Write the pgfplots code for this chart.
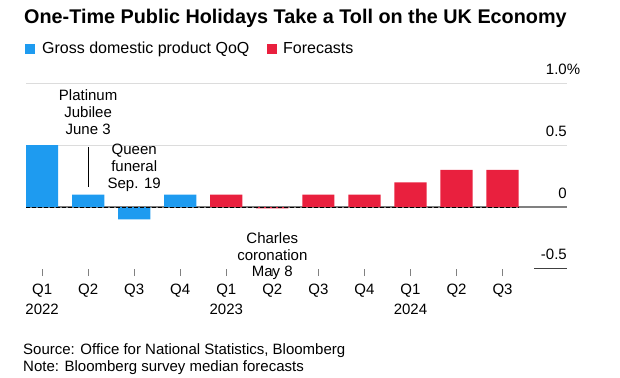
\documentclass[border=0pt]{standalone}
\usepackage{pgfplots}
\pgfplotsset{compat=1.18}
\usepackage{fontspec}
\setmainfont{Liberation Sans}
\definecolor{gdpblue}{RGB}{30,155,240}
\definecolor{fcred}{RGB}{233,32,62}
\definecolor{gridgray}{RGB}{220,220,220}
\definecolor{zerogray}{RGB}{128,128,128}
\begin{document}
\begin{tikzpicture}
\path[use as bounding box] (0pt,0pt) rectangle (620pt,377pt);
\node[anchor=base west, inner sep=0, font=\fontsize{19.8}{22}\selectfont\bfseries] at (24pt,353.7pt) {One-Time Public Holidays Take a Toll on the UK Economy};
\fill[gdpblue] (25pt,323pt) rectangle (35pt,333pt);
\node[anchor=base west, inner sep=0, font=\fontsize{16}{18}\selectfont] at (42pt,323pt) {Gross domestic product QoQ};
\fill[fcred] (267pt,323pt) rectangle (277pt,333pt);
\node[anchor=base west, inner sep=0, font=\fontsize{16}{18}\selectfont] at (283pt,323pt) {Forecasts};
\node[anchor=base west, inner sep=0, font=\fontsize{15}{17}\selectfont] at (23pt,22.5pt) {Source: Office for National Statistics, Bloomberg};
\node[anchor=base west, inner sep=0, font=\fontsize{15}{17}\selectfont] at (23pt,5.5pt) {Note: Bloomberg survey median forecasts};
\begin{axis}[at={(26pt,108pt)}, anchor=south west, scale only axis,
  width=541pt, height=185.7pt,
  xmin=-0.35, xmax=11.4, ymin=-0.5, ymax=1.0,
  ybar, bar width=0.7, bar shift=0pt,
  axis line style={draw=none},
  xtick={0,...,10},
  xticklabels={{Q1\\2022},Q2,Q3,Q4,{Q1\\2023},Q2,Q3,Q4,{Q1\\2024},Q2,Q3},
  xtick pos=lower, tick align=outside, major tick length=7pt,
  xtick style={zerogray, line width=0.8pt},
  xticklabel style={font=\fontsize{15}{20}\selectfont, align=center, yshift=-4pt},
  ytick=\empty,
  clip=false]
\draw[gridgray, line width=0.8pt] (axis cs:-0.35,1) -- (axis cs:11.4,1);
\draw[gridgray, line width=0.8pt] (axis cs:-0.35,0.5) -- (axis cs:11.4,0.5);
\draw[zerogray, line width=1.5pt] (axis cs:-0.35,0) -- (axis cs:11.4,0);
\addplot[fill=gdpblue, draw=none] coordinates {(0,0.5) (1,0.1) (2,-0.1) (3,0.1)};
\addplot[fill=fcred, draw=none] coordinates {(4,0.1) (5,-0.01) (6,0.1) (7,0.1) (8,0.2) (9,0.3) (10,0.3)};
\draw[black, dash pattern=on 4pt off 2pt, line width=1pt] (axis cs:-0.35,0) -- (axis cs:10.35,0);
\draw[black!75, line width=1pt] (axis cs:10.69,-0.5) -- (axis cs:11.4,-0.5);
\node[anchor=base east, inner sep=0, yshift=9pt, font=\fontsize{15}{17}\selectfont] at (axis cs:11.4,1) {1.0\rlap{\%}};
\node[anchor=base east, inner sep=0, yshift=9pt, font=\fontsize{15}{17}\selectfont] at (axis cs:11.4,0.5) {0.5};
\node[anchor=base east, inner sep=0, yshift=9pt, font=\fontsize{15}{17}\selectfont] at (axis cs:11.4,0) {0};
\node[anchor=base east, inner sep=0, yshift=9pt, font=\fontsize{15}{17}\selectfont] at (axis cs:11.4,-0.5) {-0.5};
\node[anchor=north, align=center, inner sep=0, font=\fontsize{15}{17}\selectfont] at (axis cs:1,0.95) {Platinum\\Jubilee\\June 3};
\draw[black, line width=0.8pt] (axis cs:1,0.486) -- (axis cs:1,0.166);
\node[anchor=north, align=center, inner sep=0, font=\fontsize{15}{17}\selectfont] at (axis cs:2,0.514) {Queen\\funeral\\Sep. 19};
\node[anchor=north, align=center, inner sep=0, font=\fontsize{15}{16.5}\selectfont] at (axis cs:5,-0.205) {Charles\\coronation\\May 8};
\end{axis}
\end{tikzpicture}
\end{document}
